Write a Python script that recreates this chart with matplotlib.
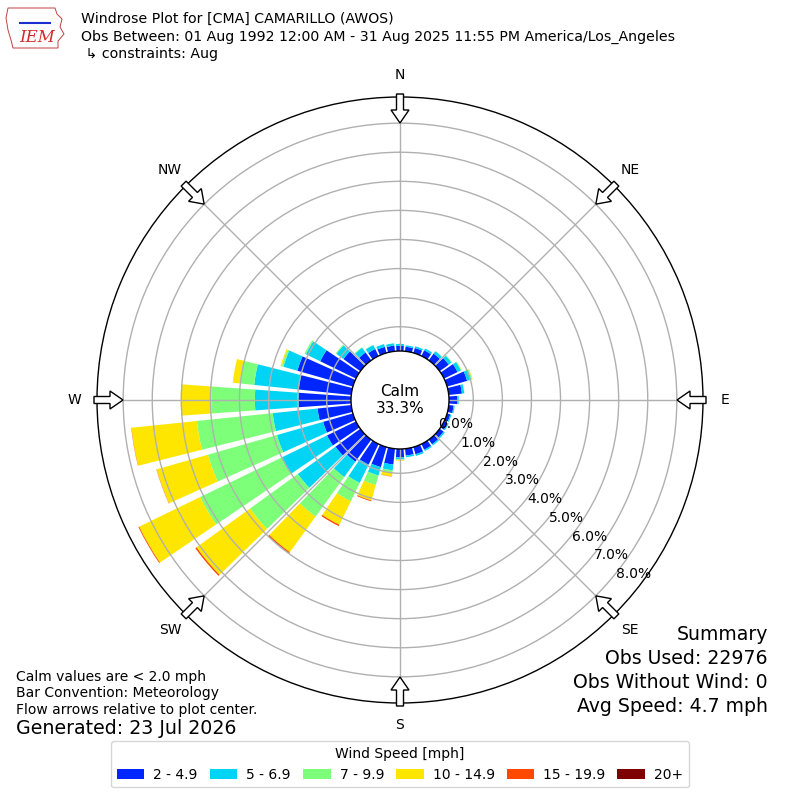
import numpy as np
import matplotlib
matplotlib.use("Agg")
import matplotlib.pyplot as plt
from matplotlib.patches import Circle, FancyArrow, Patch, Polygon

# direction bins (deg, where the wind comes from), 10 degree sectors
directions = [0, 10, 20, 30, 40, 50, 60, 70, 80, 90, 100, 110,
              120, 130, 140, 150, 160, 170, 180, 190, 200, 210, 220, 230,
              240, 250, 260, 270, 280, 290, 300, 310, 320, 330, 340, 350]

# percent of all obs, per speed bin and direction
spd_2_5 = [0.34, 0.32, 0.34, 0.38, 0.45, 0.55, 0.68, 0.88, 0.62, 0.45, 0.33, 0.28,
           0.30, 0.33, 0.36, 0.38, 0.42, 0.40, 0.45, 0.71, 0.88, 0.95, 1.10, 1.22,
           1.27, 1.23, 1.33, 1.97, 1.98, 2.15, 1.53, 0.88, 0.50, 0.43, 0.38, 0.36]
spd_5_7 = [0.07, 0.05, 0.06, 0.07, 0.10, 0.12, 0.13, 0.15, 0.08, 0.05, 0.04, 0.04,
           0.04, 0.05, 0.05, 0.05, 0.06, 0.06, 0.07, 0.20, 0.30, 0.70, 0.65, 1.60,
           1.73, 1.65, 1.55, 1.50, 1.54, 0.50, 0.55, 0.30, 0.20, 0.15, 0.10, 0.08]
spd_7_10 = [0.00, 0.00, 0.00, 0.00, 0.01, 0.02, 0.02, 0.03, 0.01, 0.00, 0.00, 0.00,
            0.00, 0.00, 0.00, 0.00, 0.00, 0.00, 0.02, 0.07, 0.34, 0.70, 1.68, 2.03,
            3.12, 2.47, 2.62, 1.50, 0.50, 0.06, 0.05, 0.03, 0.02, 0.01, 0.00, 0.00]
spd_10_15 = [0.00, 0.00, 0.00, 0.00, 0.00, 0.00, 0.01, 0.02, 0.00, 0.00, 0.00, 0.00,
             0.00, 0.00, 0.00, 0.00, 0.00, 0.00, 0.03, 0.14, 0.55, 0.90, 1.51, 2.27,
             2.33, 1.83, 2.26, 1.05, 0.24, 0.04, 0.00, 0.00, 0.00, 0.00, 0.00, 0.00]
spd_15_20 = [0.00, 0.00, 0.00, 0.00, 0.00, 0.00, 0.00, 0.00, 0.00, 0.00, 0.00, 0.00,
             0.00, 0.00, 0.00, 0.00, 0.00, 0.00, 0.00, 0.01, 0.03, 0.05, 0.05, 0.05,
             0.03, 0.01, 0.01, 0.00, 0.00, 0.00, 0.00, 0.00, 0.00, 0.00, 0.00, 0.00]
spd_20p = [0.00, 0.00, 0.00, 0.00, 0.00, 0.00, 0.00, 0.00, 0.00, 0.00, 0.00, 0.00,
           0.00, 0.00, 0.00, 0.00, 0.00, 0.00, 0.00, 0.00, 0.00, 0.00, 0.00, 0.00,
           0.00, 0.00, 0.00, 0.00, 0.00, 0.00, 0.00, 0.00, 0.00, 0.00, 0.00, 0.00]

speed_labels = ["2 - 4.9", "5 - 6.9", "7 - 9.9", "10 - 14.9", "15 - 19.9", "20+"]
speed_colors = ["#0026ff", "#00d4f4", "#7dff7a", "#ffe600", "#ff4800", "#7f0000"]

ring_values = [0, 1, 2, 3, 4, 5, 6, 7, 8]
compass = ["N", "NE", "E", "SE", "S", "SW", "W", "NW"]
compass_deg = [0, 45, 90, 135, 180, 225, 270, 315]

calm_pct = 33.3
summary = ["Summary", "Obs Used: 22976", "Obs Without Wind: 0", "Avg Speed: 4.7 mph"]

fig = plt.figure(figsize=(8, 8), dpi=100)
ax = fig.add_axes([97 / 800, 97 / 800, 606 / 800, 606 / 800], projection="polar")
ax.set_theta_zero_location("N")
ax.set_theta_direction(-1)

# stacked bars, one segment per speed bin
theta = np.deg2rad(directions)
bottom = np.zeros(len(directions))
for vals, col in zip([spd_2_5, spd_5_7, spd_7_10, spd_10_15, spd_15_20, spd_20p], speed_colors):
    ax.bar(theta, vals, width=np.deg2rad(8.2), bottom=bottom, color=col,
           edgecolor="none", zorder=1)
    bottom = bottom + np.array(vals)

ax.set_ylim(0, 8.9)
ax.set_rorigin(-1.52)
ax.set_xticks(np.deg2rad(compass_deg))
ax.set_xticklabels([])
ax.set_yticks(ring_values)
ax.set_yticklabels([])
ax.set_axisbelow(False)
ax.grid(True, color="#b0b0b0", lw=1)
ax.spines["polar"].set_linewidth(1)

# radial labels along the SE-ish ray
for v in ring_values:
    ax.annotate(f"{v:.1f}%", xy=(np.deg2rad(130), v), xytext=(3, 0),
                textcoords="offset points", ha="left", va="baseline",
                fontsize=10, zorder=6)

# calm circle in the middle
ax.add_patch(Circle((0.5, 0.5), 49 / 606, transform=ax.transAxes, fc="white",
                    ec="black", lw=1, zorder=4, clip_on=False))
ax.text(0.5, 0.5, f"Calm\n{calm_pct:.1f}%", transform=ax.transAxes, ha="center",
        va="center", fontsize=11, zorder=5)

# compass labels + flow arrows pointing to center
for lab, deg in zip(compass, compass_deg):
    a = np.deg2rad(deg)
    sx, sy = np.sin(a), np.cos(a)
    ax.text(0.5 + 0.537 * sx, 0.5 + 0.537 * sy, lab, transform=ax.transAxes,
            ha="center", va="center", fontsize=10)
    tail, tip = 306 / 606, 277 / 606
    ax.add_patch(FancyArrow(0.5 + tail * sx, 0.5 + tail * sy,
                            (tip - tail) * sx, (tip - tail) * sy,
                            width=7 / 606, head_width=18 / 606, head_length=13 / 606,
                            length_includes_head=True, fc="white", ec="black", lw=1,
                            transform=ax.transAxes, clip_on=False, zorder=6))

# rough IEM logo: state outline, station glyph and letters
outline = np.array([[8, 8], [55, 8], [57, 14], [62, 19], [60, 27], [64, 34],
                    [58, 41], [58, 48], [13, 48], [11, 40], [8, 30], [6, 18]])
fig.patches.append(Polygon(outline / 800 * [1, -1] + [0, 1], closed=True, fill=False,
                           ec="#c04040", lw=0.7, transform=fig.transFigure))
fig.lines.append(plt.Line2D([20 / 800, 50 / 800], [1 - 23 / 800, 1 - 23 / 800],
                            color="#1a2fd0", lw=1.5, transform=fig.transFigure))
fig.text(37 / 800, 1 - 38 / 800, "IEM", color="#d42a2a", fontsize=12,
         fontstyle="italic", family="DejaVu Serif", ha="center", va="center")

# header
fig.text(81 / 800, 1 - 19 / 800, "Windrose Plot for [CMA] CAMARILLO (AWOS)",
         fontsize=10.15, va="center")
fig.text(81 / 800, 1 - 37 / 800,
         "Obs Between: 01 Aug 1992 12:00 AM - 31 Aug 2025 11:55 PM America/Los_Angeles",
         fontsize=10.15, va="center")
fig.text(81 / 800, 1 - 54 / 800, " \u21b3 constraints: Aug", fontsize=10.15, va="center")

# notes bottom left
fig.text(16 / 800, 1 - 677 / 800, "Calm values are < 2.0 mph", fontsize=10, va="center")
fig.text(16 / 800, 1 - 693 / 800, "Bar Convention: Meteorology", fontsize=10, va="center")
fig.text(16 / 800, 1 - 710 / 800, "Flow arrows relative to plot center.", fontsize=10, va="center")
fig.text(16 / 800, 1 - 729 / 800, "Generated: 23 Jul 2026", fontsize=13.7, va="center")

# summary bottom right
for i, line in enumerate(summary):
    fig.text(768 / 800, 1 - (635 + 23.7 * i) / 800, line, fontsize=13.6,
             ha="right", va="center")

handles = [Patch(facecolor=c) for c in speed_colors]
fig.legend(handles, speed_labels, loc="lower center", bbox_to_anchor=(0.5, 0.007),
           ncol=6, title="Wind Speed [mph]", fontsize=10, title_fontsize=10,
           columnspacing=0.85, handletextpad=0.65)

fig.savefig("out.png", dpi=100)
